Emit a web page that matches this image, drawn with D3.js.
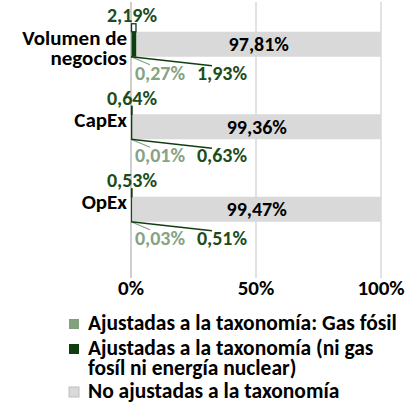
<!DOCTYPE html>
<html>
<head>
<meta charset="utf-8">
<script src="https://cdn.jsdelivr.net/npm/d3@7"></script>
<style>
  body { margin: 0; background: #fff; }
  svg text { font-family: Carlito, Lato, sans-serif; font-weight: bold; }
</style>
</head>
<body>
<div id="container"></div>
<script>
const categories = ["Volumen de negocios", "CapEx", "OpEx"]
const catLines = [["Volumen de", "negocios"], ["CapEx"], ["OpEx"]]
const gasValues = [0.27, 0.01, 0.03]
const alignedValues = [1.93, 0.63, 0.51]
const totalAligned = [2.19, 0.64, 0.53]
const notAligned = [97.81, 99.36, 99.47]
const ticks = [0, 50, 100]
const legendLabels = [
    ["Ajustadas a la taxonomía: Gas fósil"],
    ["Ajustadas a la taxonomía (ni gas", "fosíl ni energía nuclear)"],
    ["No ajustadas a la taxonomía"]
]

const colors = ["#849f80", "#0f3f10", "#d9d9d9"]
const textColors = ["#86a383", "#1b4d1b", "#000"]

const fmt = v => v.toFixed(2).replace(".", ",") + "%"

const svg = d3.select("#container").append("svg")
    .attr("width", 415)
    .attr("height", 405)

const x = d3.scaleLinear().domain([0, 100]).range([131, 381])
const y = d3.scaleBand().domain(categories).range([3, 250.5])
const barH = 25
const topH = 8

// gridlines
svg.selectAll(".grid")
    .data(ticks)
    .enter()
    .append("line")
    .attr("x1", d => x(d)).attr("x2", d => x(d))
    .attr("y1", 2).attr("y2", 278)
    .style("stroke", d => d === 0 ? "#bfbfbf" : "#d9d9d9")
    .style("stroke-width", 1.5)

svg.selectAll(".tick")
    .data(ticks)
    .enter()
    .append("text")
    .attr("x", d => x(d))
    .attr("y", 295)
    .attr("text-anchor", "middle")
    .style("font-size", "21px")
    .text(d => d + "%")

const rows = categories.map((c, i) => ({
    cat: c, i: i,
    gas: gasValues[i], al: alignedValues[i], tot: totalAligned[i], no: notAligned[i]
}))

const g = svg.selectAll(".row")
    .data(rows)
    .enter()
    .append("g")

const mid = d => y(d.cat) + y.bandwidth() / 2

// stacked bar
g.append("rect")
    .attr("x", x(0))
    .attr("y", d => mid(d) - barH / 2)
    .attr("width", d => x(d.gas) - x(0))
    .attr("height", barH)
    .style("fill", colors[0])
g.append("rect")
    .attr("x", d => x(d.gas))
    .attr("y", d => mid(d) - barH / 2)
    .attr("width", d => x(d.gas + d.al) - x(d.gas))
    .attr("height", barH)
    .style("fill", colors[1])
g.append("rect")
    .attr("x", d => x(d.gas + d.al))
    .attr("y", d => mid(d) - barH / 2)
    .attr("width", d => x(d.gas + d.al + d.no) - x(d.gas + d.al))
    .attr("height", barH)
    .style("fill", colors[2])

// total aligned bar on top
g.append("rect")
    .attr("x", x(0) + 0.5)
    .attr("y", d => mid(d) - barH / 2 - topH)
    .attr("width", d => Math.max(x(d.tot) - x(0) - 1, 0.5))
    .attr("height", topH)
    .style("fill", "#fff")
    .style("stroke", colors[1])
    .style("stroke-width", 1.3)

// labels
g.append("text")
    .attr("x", x(0) + 1)
    .attr("y", d => mid(d) - barH / 2 - topH - 1.5)
    .attr("text-anchor", "middle")
    .style("font-size", "20px")
    .style("fill", textColors[1])
    .text(d => fmt(d.tot))

g.append("text")
    .attr("x", d => x(d.gas + d.al + d.no / 2))
    .attr("y", d => mid(d) + 7)
    .attr("text-anchor", "middle")
    .style("font-size", "20px")
    .style("fill", "#000")
    .text(d => fmt(d.no))

// leader lines
const gasLabelX = 160, alLabelX = 222
g.append("line")
    .attr("x1", x(0)).attr("y1", d => mid(d) + barH / 2)
    .attr("x2", gasLabelX - 10).attr("y2", d => mid(d) + barH / 2 + 8)
    .style("stroke", colors[0]).style("stroke-width", 1.2)
g.append("line")
    .attr("x1", x(0)).attr("y1", d => mid(d) + barH / 2)
    .attr("x2", alLabelX - 10).attr("y2", d => mid(d) + barH / 2 + 9)
    .style("stroke", colors[1]).style("stroke-width", 1.5)

g.append("text")
    .attr("x", gasLabelX)
    .attr("y", d => mid(d) + barH / 2 + 23)
    .attr("text-anchor", "middle")
    .style("font-size", "20px")
    .style("fill", textColors[0])
    .text(d => fmt(d.gas))
g.append("text")
    .attr("x", alLabelX)
    .attr("y", d => mid(d) + barH / 2 + 23)
    .attr("text-anchor", "middle")
    .style("font-size", "20px")
    .style("fill", textColors[1])
    .text(d => fmt(d.al))

// category labels
g.append("text")
    .attr("text-anchor", "end")
    .style("font-size", "21px")
    .style("fill", "#000")
    .selectAll("tspan")
    .data(d => catLines[d.i].map((t, k) => ({ t: t, k: k, d: d })))
    .enter()
    .append("tspan")
    .attr("x", 127)
    .attr("y", o => mid(o.d) + (catLines[o.d.i].length > 1 ? 1 + o.k * 20 : 0))
    .text(o => o.t)

// legend
const legendY = [330, 355, 398]
const legend = svg.selectAll(".legend")
    .data(legendLabels)
    .enter()
    .append("g")

legend.append("rect")
    .attr("x", 69)
    .attr("y", (d, i) => legendY[i] - 11)
    .attr("width", 10)
    .attr("height", 10)
    .style("fill", (d, i) => colors[i])
    .style("stroke", (d, i) => i === 2 ? "#bfbfbf" : "none")

legend.append("text")
    .style("font-size", "21.5px")
    .selectAll("tspan")
    .data((d, i) => d.map((t, k) => ({ t: t, k: k, i: i })))
    .enter()
    .append("tspan")
    .attr("x", 88)
    .attr("y", o => legendY[o.i] + o.k * 20)
    .text(o => o.t)
</script>
</body>
</html>
